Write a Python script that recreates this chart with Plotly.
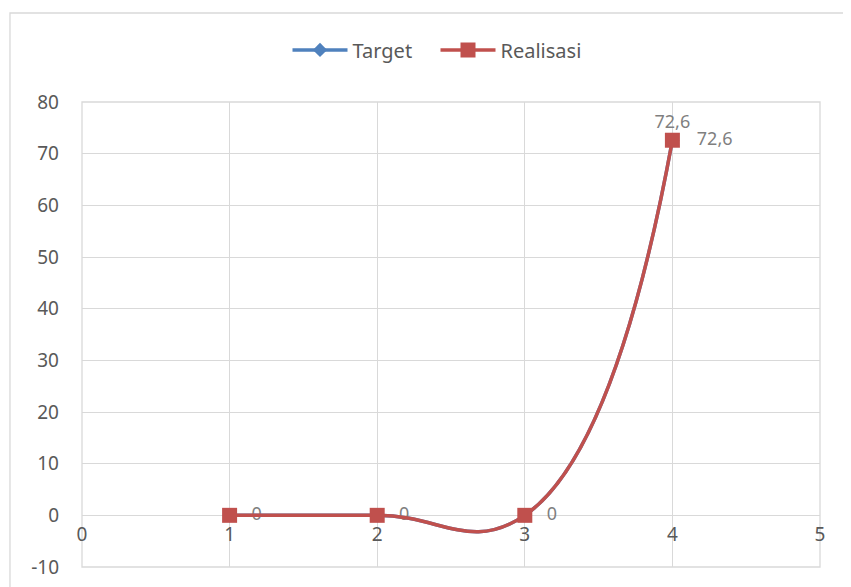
import plotly.graph_objects as go

x_vals = [1, 2, 3, 4]
target = [0, 0, 0, 72.6]
realisasi = [0, 0, 0, 72.6]
x_range = [0, 5]
y_range = [-10, 80]
x_ticks = [0, 1, 2, 3, 4, 5]
y_ticks = [-10, 0, 10, 20, 30, 40, 50, 60, 70, 80]

PAD = "\u00a0\u00a0\u00a0"

def fmt(v):
    s = f"{v:g}"
    return s.replace(".", ",")

BLUE = "#4F81BD"
RED = "#C0504D"
GRAY = "#595959"
LABEL = "#7F7F7F"
GRID = "#D9D9D9"
FONT = "Noto Sans"

fig = go.Figure()
fig.add_trace(go.Scatter(
    x=x_vals, y=target, name="Target", mode="lines+markers+text",
    line=dict(color=BLUE, width=3.5, shape="spline", smoothing=1.3),
    marker=dict(symbol="diamond", size=11, color=BLUE),
    text=[(PAD + fmt(v)) if v == 0 else fmt(v) for v in target],
    textposition=["middle right" if v == 0 else "top center" for v in target],
    textfont=dict(family=FONT, size=18, color=LABEL),
))
fig.add_trace(go.Scatter(
    x=x_vals, y=realisasi, name="Realisasi", mode="lines+markers+text",
    line=dict(color=RED, width=3.5, shape="spline", smoothing=1.3),
    marker=dict(symbol="square", size=15, color=RED),
    text=[(PAD + fmt(v)) if v != 0 else "" for v in realisasi],
    textposition="middle right",
    textfont=dict(family=FONT, size=18, color=LABEL),
))

# x axis crosses at y = 0 (Excel style)
x_cross = (0 - y_range[0]) / (y_range[1] - y_range[0])

fig.update_layout(
    width=843, height=579,
    margin=dict(l=74, r=31, t=94, b=20, autoexpand=False),
    paper_bgcolor="white", plot_bgcolor="white",
    separators=",.",
    font=dict(family=FONT, size=18, color=GRAY),
    showlegend=True,
    legend=dict(orientation="h", x=0.479, xanchor="center", y=1.112, yanchor="middle",
                font=dict(family=FONT, size=20, color=GRAY), itemwidth=55,
                entrywidth=78, traceorder="normal"),
    xaxis=dict(range=x_range, tickvals=x_ticks, ticktext=[str(v) for v in x_ticks],
               showgrid=True, gridcolor=GRID, gridwidth=1.3, automargin=False,
               zeroline=False, showline=False, anchor="free", position=x_cross,
               ticks="", ticklabelstandoff=6, tickfont=dict(family=FONT, size=19, color=GRAY)),
    yaxis=dict(range=y_range, tickvals=y_ticks, ticktext=[str(v) for v in y_ticks],
               showgrid=True, gridcolor=GRID, gridwidth=1.3, automargin=False,
               zeroline=True, zerolinecolor=GRID, zerolinewidth=1.3, showline=False,
               ticks="", ticklabelstandoff=22, tickfont=dict(family=FONT, size=19, color=GRAY)),
    shapes=[
        dict(type="rect", xref="paper", yref="paper", x0=-0.0976, y0=-0.06, x1=1.0407, y1=1.1914,
             line=dict(color=GRID, width=1.3), fillcolor="rgba(0,0,0,0)", layer="below"),
        dict(type="rect", xref="x domain", yref="y domain", x0=0, y0=0, x1=1, y1=1,
             line=dict(color=GRID, width=1.3), fillcolor="rgba(0,0,0,0)", layer="below"),
    ],
)

fig.write_html("out.html")
